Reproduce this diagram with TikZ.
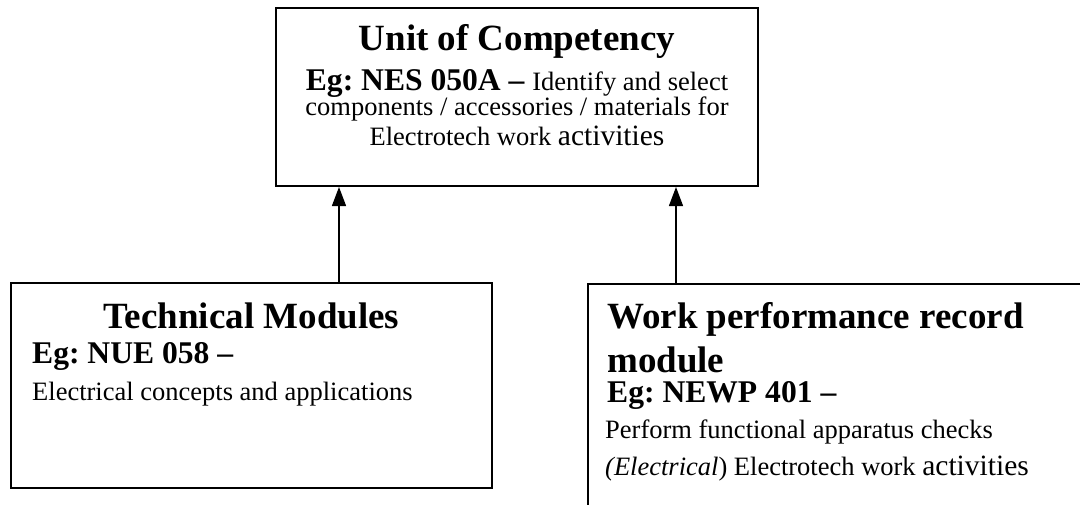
\documentclass[tikz,border=0pt]{standalone}
\usepackage{fontspec}
\setmainfont{Liberation Serif}
\usetikzlibrary{positioning, arrows.meta}
\frenchspacing
\newcommand{\boxtitle}[1]{{\fontsize{37}{44}\selectfont\bfseries #1}}
\newcommand{\egcode}[1]{{\fontsize{31.6}{36}\selectfont\bfseries #1}}
\newcommand{\bodytxt}[1]{{\fontsize{26.5}{30}\selectfont #1}}
\newcommand{\bigtxt}[1]{{\fontsize{29.5}{34}\selectfont #1}}

\begin{document}
\begin{tikzpicture}[x=1pt,y=-1pt,
        unitbox/.style={draw,line width=2pt,minimum width=482pt,minimum height=178pt,anchor=north west,inner sep=0pt},
        lbl/.style={inner sep=0pt,anchor=base},
        lbll/.style={inner sep=0pt,anchor=base west},
        arr/.style={line width=1.3pt,-{Triangle[width=14pt,length=19pt]}}]
        \useasboundingbox (0,0) rectangle (1080,504);
        \fill[white] (0,0) rectangle (1080,504);
        \clip (0,0) rectangle (1080,504);

        \node[unitbox] (unit) at (275,7) {};
        \node[unitbox, minimum width=481pt, minimum height=205pt] (tech) at (10,282) {};
        \node[unitbox, minimum width=520pt, minimum height=260pt] (wpr) at (587,283) {};

        \node[lbl] (unit_title) at ([yshift=-43pt]unit.north) {\boxtitle{Unit of Competency}};
        \node[lbl] (unit_code) at ([yshift=-83pt]unit.north) {\egcode{Eg: NES 050A -- }\bodytxt{Identify and select}};
        \node[lbl] (unit_desc) at ([yshift=-108pt]unit.north) {\bodytxt{components / accessories / materials for}};
        \node[lbl] (unit_desc2) at ([yshift=-138pt]unit.north) {\bodytxt{Electrotech work }\bigtxt{activities}};

        \node[lbl] (tech_title) at ([yshift=-46pt]tech.north) {\boxtitle{Technical Modules}};
        \node[lbll] (tech_code) at ([xshift=22pt,yshift=-81pt]tech.north west) {\egcode{Eg: NUE 058 --}};
        \node[lbll] (tech_desc) at ([xshift=22pt,yshift=-118pt]tech.north west) {\bodytxt{Electrical concepts and applications}};

        \node[lbll] (wpr_title) at ([xshift=20pt,yshift=-45pt]wpr.north west) {\boxtitle{Work performance record}};
        \node[lbll] (wpr_title2) at ([xshift=20pt,yshift=-89pt]wpr.north west) {\boxtitle{module}};
        \node[lbll] (wpr_code) at ([xshift=20pt,yshift=-119pt]wpr.north west) {\egcode{Eg: NEWP 401 --}};
        \node[lbll] (wpr_desc) at ([xshift=18pt,yshift=-155pt]wpr.north west) {\bodytxt{Perform functional apparatus checks}};
        \node[lbll] (wpr_desc2) at ([xshift=18pt,yshift=-192pt]wpr.north west) {\bodytxt{\textit{(Electrical}) Electrotech work }\bigtxt{activities}};

        \draw[arr] ([xshift=329pt]tech.north west) -- ([xshift=329pt]tech.north west |- unit.south);
        \draw[arr] ([xshift=89pt]wpr.north west) -- ([xshift=89pt]wpr.north west |- unit.south);
\end{tikzpicture}
\end{document}
